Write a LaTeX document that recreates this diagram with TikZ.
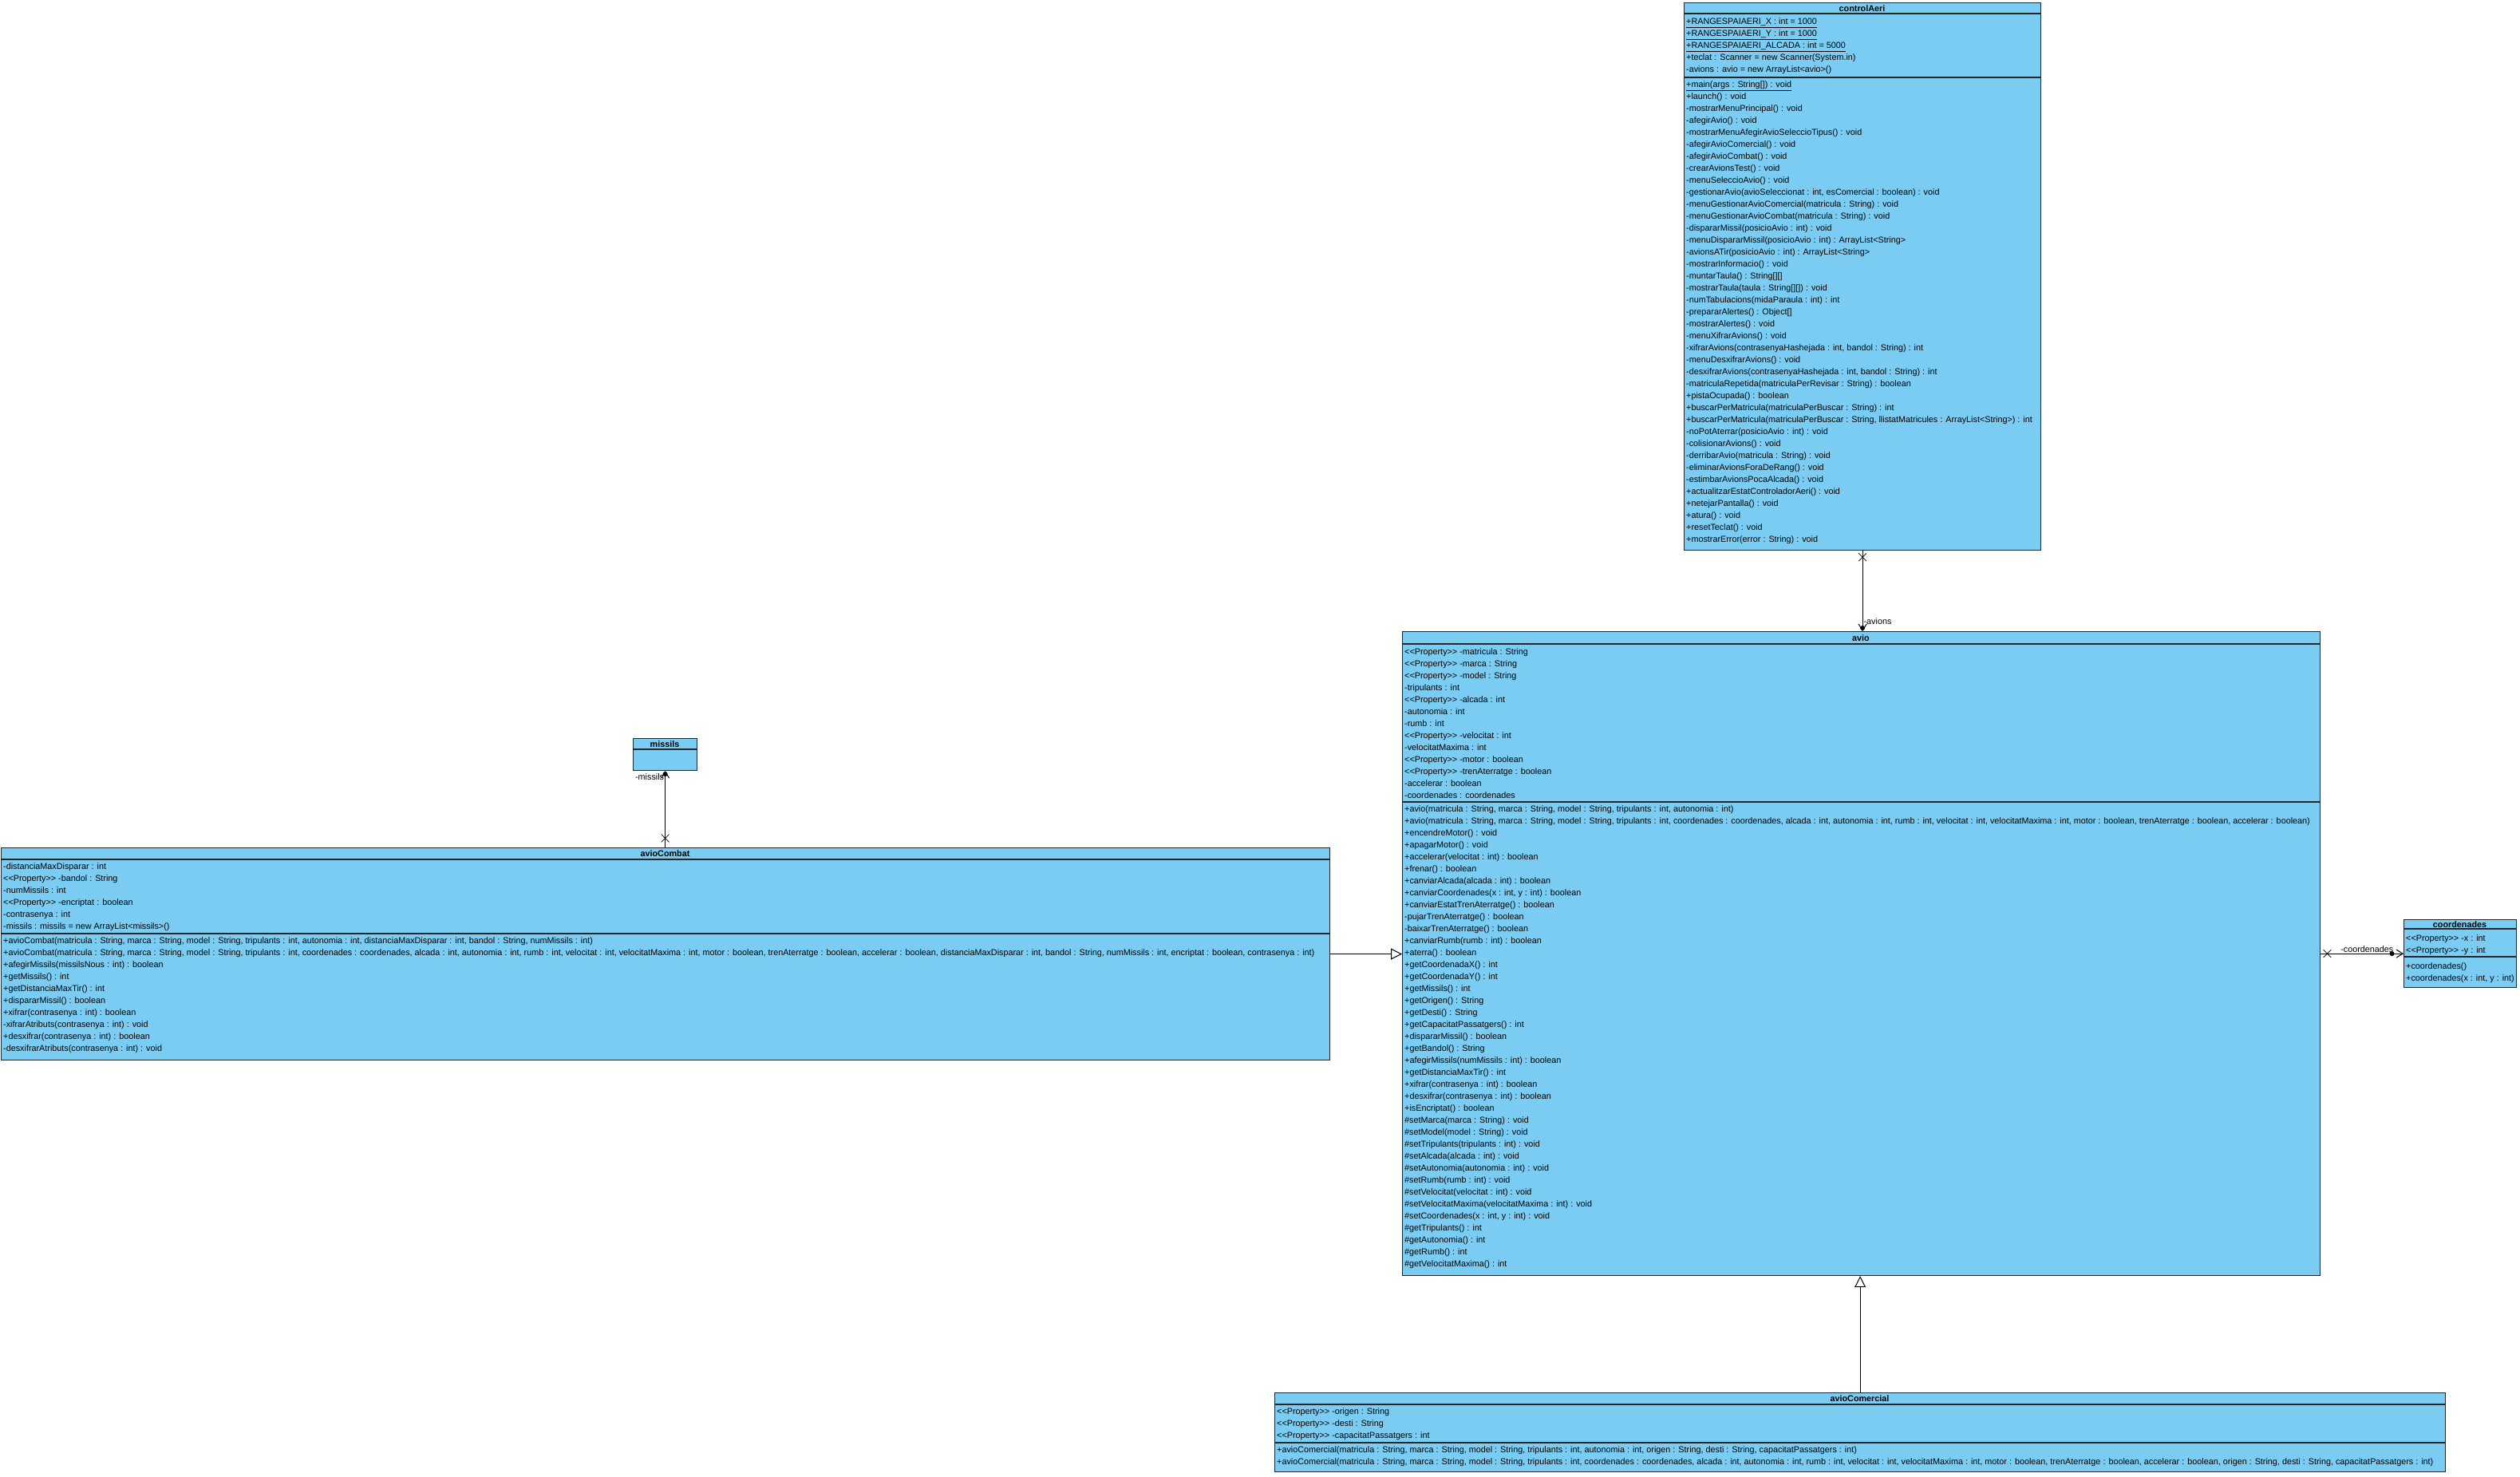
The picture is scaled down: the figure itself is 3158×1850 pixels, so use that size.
\documentclass[tikz,border=0pt]{standalone}
\usepackage{fontspec}
\setmainfont{Liberation Sans}
\usetikzlibrary{arrows.meta,shapes.misc}
\definecolor{umlblue}{RGB}{122,204,242}
\newcommand{\propmark}{<\kern0pt<Property>\kern0pt> }
\tikzset{
  classbox/.style={draw=black!85, fill=umlblue, line width=1.2pt, inner sep=0pt, anchor=north west},
  classname/.style={font=\bfseries\fontsize{10.8}{15}\selectfont, anchor=base, inner sep=0pt},
  members/.style={font=\fontsize{10.8}{15}\selectfont, align=left, anchor=north west, inner sep=0pt},
  divider/.style={draw=black!85, line width=1.2pt},
  assoc/.style={line width=1pt, -{Straight Barb[length=8pt,width=10pt]}},
  inherit/.style={line width=1pt, -{Triangle[open,length=14pt,width=14pt,fill=white]}},
  xmark/.style={draw, cross out, minimum size=9pt, inner sep=0pt, line width=0.8pt},
  owndot/.style={circle, fill, inner sep=0pt, minimum size=6pt},
  rolename/.style={font=\fontsize{10.8}{13}\selectfont, inner sep=1pt},
}

\begin{document}
\begin{tikzpicture}[x=1pt,y=-1pt]
\useasboundingbox (0,0) rectangle (3158,1850);
\fill[white] (0,0) rectangle (3158,1850);

% controlAeri
\node[classbox, minimum width=447pt, minimum height=686pt] (ctl) at (2110,3) {};
\node[classname] (ctlName) at (2333.5,14) {controlAeri};
\draw[divider] (2110,17) -- (2557,17);
\draw[divider] (2110,97) -- (2557,97);
\node[members] (ctlAttr) at (2113,20) {\strut\underline{+RANGESPAIAERI\_X : int = 1000}\\
\underline{+RANGESPAIAERI\_Y : int = 1000}\\
\underline{+RANGESPAIAERI\_ALCADA : int = 5000}\\
+teclat : Scanner = new Scanner(System.in)\\
-avions : avio = new ArrayList<avio>()};
\node[members] (ctlOps) at (2113,99) {\strut\underline{+main(args : String[]) : void}\\
+launch() : void\\
-mostrarMenuPrincipal() : void\\
-afegirAvio() : void\\
-mostrarMenuAfegirAvioSeleccioTipus() : void\\
-afegirAvioComercial() : void\\
-afegirAvioCombat() : void\\
-crearAvionsTest() : void\\
-menuSeleccioAvio() : void\\
-gestionarAvio(avioSeleccionat : int, esComercial : boolean) : void\\
-menuGestionarAvioComercial(matricula : String) : void\\
-menuGestionarAvioCombat(matricula : String) : void\\
-dispararMissil(posicioAvio : int) : void\\
-menuDispararMissil(posicioAvio : int) : ArrayList<String>\\
-avionsATir(posicioAvio : int) : ArrayList<String>\\
-mostrarInformacio() : void\\
-muntarTaula() : String[][]\\
-mostrarTaula(taula : String[][]) : void\\
-numTabulacions(midaParaula : int) : int\\
-prepararAlertes() : Object[]\\
-mostrarAlertes() : void\\
-menuXifrarAvions() : void\\
-xifrarAvions(contrasenyaHashejada : int, bandol : String) : int\\
-menuDesxifrarAvions() : void\\
-desxifrarAvions(contrasenyaHashejada : int, bandol : String) : int\\
-matriculaRepetida(matriculaPerRevisar : String) : boolean\\
+pistaOcupada() : boolean\\
+buscarPerMatricula(matriculaPerBuscar : String) : int\\
+buscarPerMatricula(matriculaPerBuscar : String, llistatMatricules : ArrayList<String>) : int\\
-noPotAterrar(posicioAvio : int) : void\\
-colisionarAvions() : void\\
-derribarAvio(matricula : String) : void\\
-eliminarAvionsForaDeRang() : void\\
-estimbarAvionsPocaAlcada() : void\\
+actualitzarEstatControladorAeri() : void\\
+netejarPantalla() : void\\
+atura() : void\\
+resetTeclat() : void\\
+mostrarError(error : String) : void};

% avio
\node[classbox, minimum width=1150pt, minimum height=807pt] (avio) at (1757,791) {};
\node[classname] (avioName) at (2332,803) {avio};
\draw[divider] (1757,807) -- (2907,807);
\draw[divider] (1757,1005) -- (2907,1005);
\node[members] (avioAttr) at (1760,810) {\strut\propmark-matricula : String\\
\propmark-marca : String\\
\propmark-model : String\\
-tripulants : int\\
\propmark-alcada : int\\
-autonomia : int\\
-rumb : int\\
\propmark-velocitat : int\\
-velocitatMaxima : int\\
\propmark-motor : boolean\\
\propmark-trenAterratge : boolean\\
-accelerar : boolean\\
-coordenades : coordenades};
\node[members] (avioOps) at (1760,1007) {\strut+avio(matricula : String, marca : String, model : String, tripulants : int, autonomia : int)\\
+avio(matricula : String, marca : String, model : String, tripulants : int, coordenades : coordenades, alcada : int, autonomia : int, rumb : int, velocitat : int, velocitatMaxima : int, motor : boolean, trenAterratge : boolean, accelerar : boolean)\\
+encendreMotor() : void\\
+apagarMotor() : void\\
+accelerar(velocitat : int) : boolean\\
+frenar() : boolean\\
+canviarAlcada(alcada : int) : boolean\\
+canviarCoordenades(x : int, y : int) : boolean\\
+canviarEstatTrenAterratge() : boolean\\
-pujarTrenAterratge() : boolean\\
-baixarTrenAterratge() : boolean\\
+canviarRumb(rumb : int) : boolean\\
+aterra() : boolean\\
+getCoordenadaX() : int\\
+getCoordenadaY() : int\\
+getMissils() : int\\
+getOrigen() : String\\
+getDesti() : String\\
+getCapacitatPassatgers() : int\\
+dispararMissil() : boolean\\
+getBandol() : String\\
+afegirMissils(numMissils : int) : boolean\\
+getDistanciaMaxTir() : int\\
+xifrar(contrasenya : int) : boolean\\
+desxifrar(contrasenya : int) : boolean\\
+isEncriptat() : boolean\\
\#setMarca(marca : String) : void\\
\#setModel(model : String) : void\\
\#setTripulants(tripulants : int) : void\\
\#setAlcada(alcada : int) : void\\
\#setAutonomia(autonomia : int) : void\\
\#setRumb(rumb : int) : void\\
\#setVelocitat(velocitat : int) : void\\
\#setVelocitatMaxima(velocitatMaxima : int) : void\\
\#setCoordenades(x : int, y : int) : void\\
\#getTripulants() : int\\
\#getAutonomia() : int\\
\#getRumb() : int\\
\#getVelocitatMaxima() : int};

% missils
\node[classbox, minimum width=80pt, minimum height=40pt] (mis) at (793,925) {};
\node[classname] (misName) at (833,936) {missils};
\draw[divider] (793,939) -- (873,939);

% avioCombat
\node[classbox, minimum width=1665pt, minimum height=266pt] (comb) at (1,1062) {};
\node[classname] (combName) at (833.5,1073) {avioCombat};
\draw[divider] (1,1077) -- (1666,1077);
\draw[divider] (1,1170) -- (1666,1170);
\node[members] (combAttr) at (4,1079) {\strut-distanciaMaxDisparar : int\\
\propmark-bandol : String\\
-numMissils : int\\
\propmark-encriptat : boolean\\
-contrasenya : int\\
-missils : missils = new ArrayList<missils>()};
\node[members] (combOps) at (4,1172) {\strut+avioCombat(matricula : String, marca : String, model : String, tripulants : int, autonomia : int, distanciaMaxDisparar : int, bandol : String, numMissils : int)\\
+avioCombat(matricula : String, marca : String, model : String, tripulants : int, coordenades : coordenades, alcada : int, autonomia : int, rumb : int, velocitat : int, velocitatMaxima : int, motor : boolean, trenAterratge : boolean, accelerar : boolean, distanciaMaxDisparar : int, bandol : String, numMissils : int, encriptat : boolean, contrasenya : int)\\
+afegirMissils(missilsNous : int) : boolean\\
+getMissils() : int\\
+getDistanciaMaxTir() : int\\
+dispararMissil() : boolean\\
+xifrar(contrasenya : int) : boolean\\
-xifrarAtributs(contrasenya : int) : void\\
+desxifrar(contrasenya : int) : boolean\\
-desxifrarAtributs(contrasenya : int) : void};

% coordenades
\node[classbox, minimum width=141pt, minimum height=85pt] (coord) at (3012,1152) {};
\node[classname] (coordName) at (3082.5,1162) {coordenades};
\draw[divider] (3012,1164) -- (3153,1164);
\draw[divider] (3012,1199) -- (3153,1199);
\node[members] (coordAttr) at (3015,1169) {\strut\propmark-x : int\\
\propmark-y : int};
\node[members] (coordOps) at (3015,1204) {\strut+coordenades()\\
+coordenades(x : int, y : int)};

% avioComercial
\node[classbox, minimum width=1467pt, minimum height=99pt] (com) at (1597,1745) {};
\node[classname] (comName) at (2330.5,1756) {avioComercial};
\draw[divider] (1597,1760) -- (3064,1760);
\draw[divider] (1597,1808) -- (3064,1808);
\node[members] (comAttr) at (1600,1762) {\strut\propmark-origen : String\\
\propmark-desti : String\\
\propmark-capacitatPassatgers : int};
\node[members] (comOps) at (1600,1810) {\strut+avioComercial(matricula : String, marca : String, model : String, tripulants : int, autonomia : int, origen : String, desti : String, capacitatPassatgers : int)\\
+avioComercial(matricula : String, marca : String, model : String, tripulants : int, coordenades : coordenades, alcada : int, autonomia : int, rumb : int, velocitat : int, velocitatMaxima : int, motor : boolean, trenAterratge : boolean, accelerar : boolean, origen : String, desti : String, capacitatPassatgers : int)};

% relations
\draw[assoc] (ctl.south) -- node[xmark, pos=0.08] (ctlX) {} node[owndot, pos=0.96] (avionsDot) {} node[rolename, right, pos=0.88] (avionsRole) {-avions} (ctl.south |- avio.north);
\draw[assoc] (comb.north -| mis.south) -- node[xmark, pos=0.12] (combX) {} node[owndot, pos=0.96] (misDot) {} node[rolename, left, pos=0.92] (misRole) {-missils} (mis.south);
\draw[assoc] (avio.east) -- node[xmark, pos=0.08] (avioX) {} node[owndot, pos=0.86] (coordDot) {} node[rolename, above, pos=0.56] (coordRole) {-coordenades} (coord.west);
\draw[inherit] (comb.east) -- (comb.east -| avio.west);
\draw[inherit] (com.north) -- (com.north |- avio.south);
\end{tikzpicture}
\end{document}
